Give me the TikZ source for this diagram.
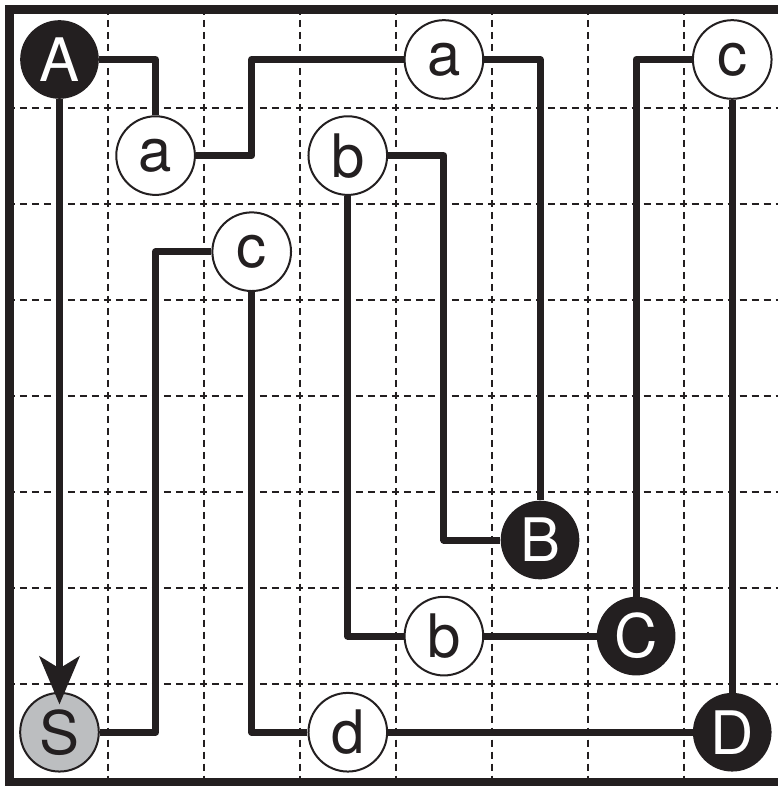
\documentclass[tikz,border=0pt]{standalone}
\usepackage{fontspec}
\setmainfont{TeX Gyre Heros}
\usetikzlibrary{arrows.meta}
\definecolor{ink}{HTML}{231F20}
\definecolor{stone}{HTML}{BCBEC0}
\tikzset{
	pt/.style={circle, inner sep=0pt, minimum size=59pt, font=\fontsize{45}{45}\selectfont},
	solidpt/.style={pt, fill=ink, text=white},
	openpt/.style={pt, draw=ink, line width=1.5pt, fill=white, text=ink},
	greypt/.style={pt, draw=ink, line width=1.5pt, fill=stone, text=ink},
	wire/.style={draw=ink, line width=5.25pt, line join=round},
	gridline/.style={ink, line width=1.5pt, dash pattern=on 5.4pt off 3.6pt, dash phase=1.2pt}
}
\begin{document}
\begin{tikzpicture}[x=72.1pt, y=-72.1pt]
		\useasboundingbox (-0.619,-0.619) rectangle (7.466,7.570);
		
		% griglia e cornice
		\foreach \k in {0.5,1.5,...,6.5} {
			\draw[gridline] (\k,-0.52) -- (\k,7.52);
			\draw[gridline] (-0.52,\k) -- (7.6,\k);
		}
		\draw[ink, line width=6.4pt] (-0.52,-0.52) rectangle (7.62,7.52);
		
		% punti
		\node[solidpt] (A) at (0,0) {A};
		\node[openpt] (a1) at (1,1) {a};
		\node[openpt] (a2) at (4,0) {a};
		\node[openpt] (c1) at (7,0) {c};
		\node[openpt] (b1) at (3,1) {b};
		\node[openpt] (c2) at (2,2) {c};
		\node[solidpt] (B) at (5,5) {B};
		\node[openpt] (b2) at (4,6) {b};
		\node[solidpt] (C) at (6,6) {C};
		\node[greypt] (S) at (0,7) {S};
		\node[openpt] (d) at (3,7) {d};
		\node[solidpt] (D) at (7,7) {D};
		
		% A - S
		\draw[wire, -{Stealth[length=36pt, width=30pt, inset=9pt]}, shorten >=-9.4pt] (A) -- (S);
		
		% a, B
		\draw[wire] (A) -| (a1);
		\draw[wire] (a1) -- (2,1) |- (a2);
		\draw[wire] (a2) -| (B);
		
		% b, B, C
		\draw[wire] (b1) -- (4,1) |- (B);
		\draw[wire] (b1) |- (b2);
		\draw[wire] (b2) -- (C);
		\draw[wire] (c1) -| (C);
		
		% c, d, D
		\draw[wire] (c2) -- (1,2) |- (S);
		\draw[wire] (c2) |- (d);
		\draw[wire] (d) -- (D);
		\draw[wire] (D) -- (c1);
\end{tikzpicture}
\end{document}
